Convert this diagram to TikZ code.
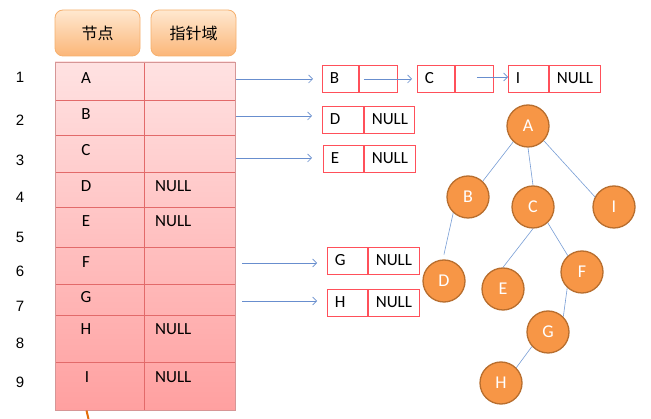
\documentclass[tikz,border=0pt]{standalone}
\usepackage{fontspec}
\setmainfont{Carlito}
\newfontfamily\cjkfont{Noto Sans CJK SC}
\newfontfamily\numfont{Liberation Sans}
\usetikzlibrary{arrows.meta,calc}
\definecolor{gridred}{RGB}{226,106,106}
\definecolor{tabtop}{RGB}{255,226,226}
\definecolor{tabbot}{RGB}{255,160,160}
\definecolor{tabedge}{RGB}{214,150,150}
\definecolor{hdrtop}{RGB}{255,232,208}
\definecolor{hdrbot}{RGB}{251,182,120}
\definecolor{hdredge}{RGB}{246,176,110}
\definecolor{boxred}{RGB}{255,80,90}
\definecolor{linkblue}{RGB}{104,142,206}
\definecolor{edgeblue}{RGB}{120,158,214}
\definecolor{nodeorange}{RGB}{247,150,70}
\definecolor{nodeedge}{RGB}{184,110,46}
\definecolor{stuborange}{RGB}{228,108,10}
\begin{document}
\begin{tikzpicture}[x=1pt,y=-1pt,
  hdr/.style={draw=hdredge, line width=0.8pt, rounded corners=8pt,
    top color=hdrtop, bottom color=hdrbot, minimum width=85pt, minimum height=46pt,
    inner sep=0pt, font=\cjkfont\fontsize{16}{16}\selectfont},
  celltxt/.style={inner sep=0pt, font=\fontsize{17}{17}\selectfont},
  nulltxt/.style={celltxt, anchor=west},
  rownum/.style={inner sep=0pt, font=\numfont\fontsize{15}{15}\selectfont},
  fld/.style={draw=boxred, line width=0.9pt, minimum height=27pt, inner xsep=7.5pt,
    inner ysep=0pt, anchor=west, align=left, text width=#1,
    font=\fontsize{17}{17}\selectfont},
  link/.style={draw=linkblue, line width=0.7pt, -{Straight Barb[length=4pt,width=8pt]}},
  tnode/.style={circle, fill=nodeorange, draw=nodeedge, line width=1.3pt,
    minimum size=42pt, inner sep=0pt, text=white, font=\fontsize{18}{18}\selectfont},
  tedge/.style={draw=edgeblue, line width=0.6pt}
]
\useasboundingbox (0,0) rectangle (651,419);
\fill[white] (0,0) rectangle (651,419);

% headers
\node[hdr] (h1) at (97.5,33) {节点};
\node[hdr] (h2) at (193.5,33) {指针域};

% table
\shade[top color=tabtop, bottom color=tabbot] (55,62) rectangle (235,410);
\foreach \yy in {100,135,172,207,247,284,315,362}
  \draw[gridred, line width=0.7pt] (55,\yy) -- (235,\yy);
\draw[gridred, line width=0.7pt] (144,62) -- (144,410);
\draw[tabedge, line width=0.9pt] (55,62) rectangle (235,410);

% stub below table
\draw[stuborange, line width=2pt] (86.5,410.5) -- (88.5,419);

% row numbers
\node[rownum] (n1) at (20,77) {1};
\node[rownum] (n2) at (20,120.5) {2};
\node[rownum] (n3) at (20,160) {3};
\node[rownum] (n4) at (20,197) {4};
\node[rownum] (n5) at (20,237) {5};
\node[rownum] (n6) at (20,271) {6};
\node[rownum] (n7) at (20,306) {7};
\node[rownum] (n8) at (20,343) {8};
\node[rownum] (n9) at (20,382) {9};

% table texts
\node[celltxt] (tA) at (86,78) {A};
\node[celltxt] (tB) at (86,114.5) {B};
\node[celltxt] (tC) at (86,150.5) {C};
\node[celltxt] (tD) at (86,186) {D};
\node[celltxt] (tE) at (86,221) {E};
\node[celltxt] (tF) at (86,262) {F};
\node[celltxt] (tG) at (86,297) {G};
\node[celltxt] (tH) at (86,329) {H};
\node[celltxt] (tI) at (87,377) {I};
\node[nulltxt] (uD) at (155,186) {NULL};
\node[nulltxt] (uE) at (155,221) {NULL};
\node[nulltxt] (uH) at (155,329) {NULL};
\node[nulltxt] (uI) at (155,377) {NULL};

% connector starts
\coordinate (s1) at (236,79);
\coordinate (s2) at (236,116);
\coordinate (s3) at (236,158);
\coordinate (s6) at (242,263);
\coordinate (s7) at (242,301);

% linked-list boxes
\node[fld=21pt] (Bl) at (322,78.5) {B};
\node[fld=23pt] (Br) at (Bl.east) {};
\node[fld=22pt] (Cl) at (417,78.5) {C};
\node[fld=23pt] (Cr) at (Cl.east) {};
\node[fld=25pt] (Il) at (508,78.5) {I};
\node[fld=36pt] (Ir) at (Il.east) {NULL};

\node[fld=26pt] (Dl) at (322,119.5) {D};
\node[fld=35pt] (Dr) at (Dl.east) {NULL};

\node[fld=25pt] (El) at (323,158.5) {E};
\node[fld=36pt] (Er) at (El.east) {NULL};

\node[fld=25pt] (Gl) at (327,260.5) {G};
\node[fld=36pt] (Gr) at (Gl.east) {NULL};

\node[fld=25pt] (Hl) at (327,302.5) {H};
\node[fld=36pt] (Hr) at (Hl.east) {NULL};

% arrows
\draw[link, shorten >=9pt] (s1) -- (s1 -| Bl.west);
\draw[link, shorten >=10pt] (s2) -- (s2 -| Dl.west);
\draw[link, shorten >=11pt] (s3) -- (s3 -| El.west);
\draw[link, shorten >=10pt] (s6) -- (s6 -| Gl.west);
\draw[link, shorten >=10pt] (s7) -- (s7 -| Hl.west);
\draw[link] ($(Br.west)+(5,0.5)$) -- ([xshift=-5pt,yshift=-0.5pt]Cl.west);
\draw[link] ($(Cr.west)+(22,-1.5)$) -- ([yshift=1.5pt]Il.west);

% tree
\node[tnode] (A) at (528,126) {A};
\node[tnode] (B) at (468,197) {B};
\node[tnode] (C) at (533,207) {C};
\node[tnode] (I) at (614,207) {I};
\node[tnode] (D) at (444,281) {D};
\node[tnode] (E) at (503,289) {E};
\node[tnode] (F) at (582,272) {F};
\node[tnode] (G) at (548,332) {G};
\node[tnode] (H) at (501,383) {H};

\draw[tedge] (A.227) -- (B.47);
\draw[tedge] (A.south) -- (C.north);
\draw[tedge] (A.-43) -- (I.152);
\draw[tedge, shorten >=5pt] (B.227) -- (D.93);
\draw[tedge] (C.south) -- (E.north);
\draw[tedge] (C.313) -- (F.131);
\draw[tedge] (F.227) -- (G.45);
\draw[tedge] (G.222) -- (H.45);
\end{tikzpicture}
\end{document}
